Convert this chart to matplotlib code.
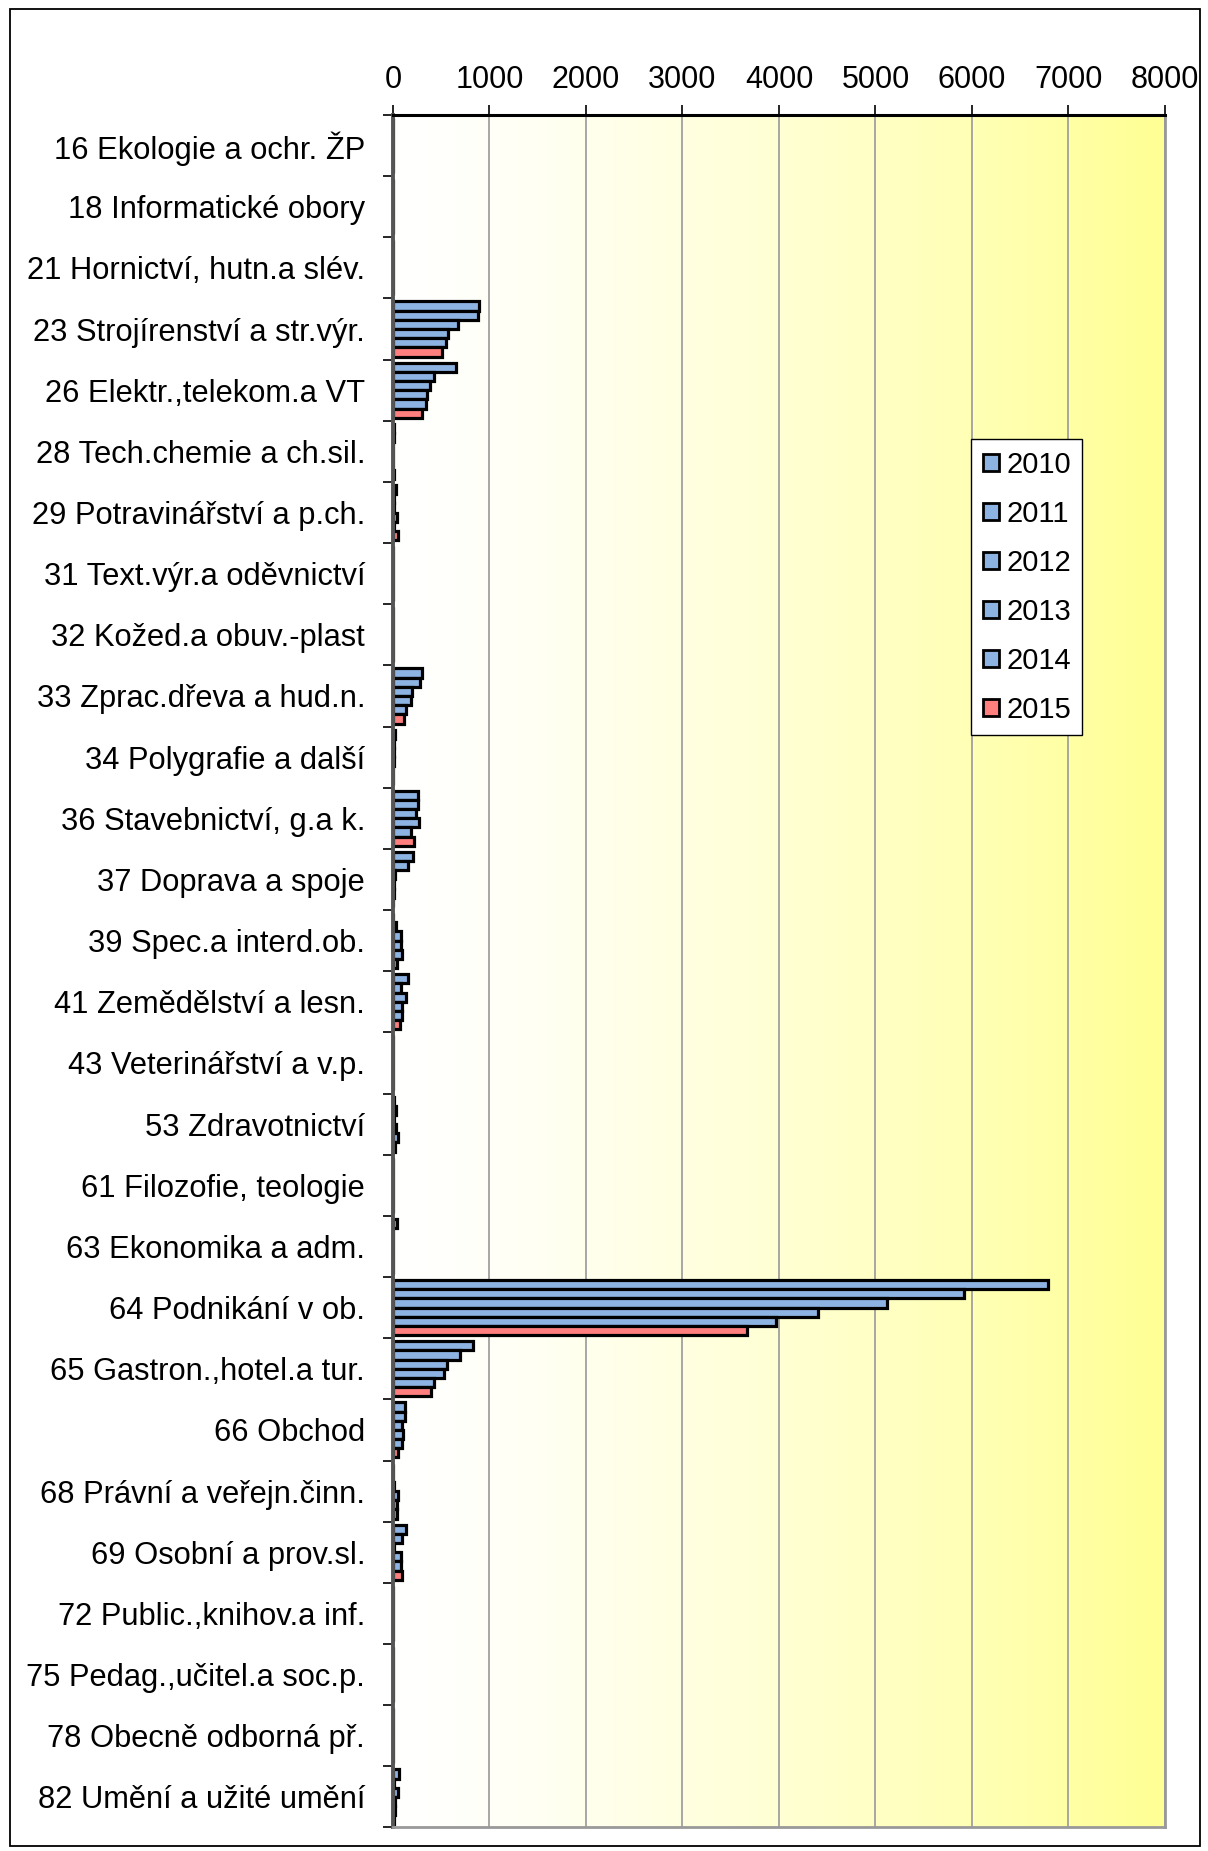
import numpy as np
import matplotlib
matplotlib.use('Agg')
import matplotlib.pyplot as plt
from matplotlib.patches import Rectangle

plt.rcParams['font.family'] = ['Liberation Sans', 'DejaVu Sans']

# obory vzdelani
obory = ['16 Ekologie a ochr. ŽP', '18 Informatické obory', '21 Hornictví, hutn.a slév.',
         '23 Strojírenství a str.výr.', '26 Elektr.,telekom.a VT', '28 Tech.chemie a ch.sil.',
         '29 Potravinářství a p.ch.', '31 Text.výr.a oděvnictví', '32 Kožed.a obuv.-plast',
         '33 Zprac.dřeva a hud.n.', '34 Polygrafie a další', '36 Stavebnictví, g.a k.',
         '37 Doprava a spoje', '39 Spec.a interd.ob.', '41 Zemědělství a lesn.',
         '43 Veterinářství a v.p.', '53 Zdravotnictví', '61 Filozofie, teologie',
         '63 Ekonomika a adm.', '64 Podnikání v ob.', '65 Gastron.,hotel.a tur.',
         '66 Obchod', '68 Právní a veřejn.činn.', '69 Osobní a prov.sl.',
         '72 Public.,knihov.a inf.', '75 Pedag.,učitel.a soc.p.', '78 Obecně odborná př.',
         '82 Umění a užité umění']

roky = ['2010', '2011', '2012', '2013', '2014', '2015']

r2010 = [0, 0, 0, 891, 649, 15, 30, 0, 0, 297, 20, 262, 205, 0, 155, 0, 10, 0, 40, 6790, 830, 125, 0, 130, 0, 0, 0, 60]
r2011 = [0, 0, 0, 884, 428, 10, 10, 0, 0, 283, 15, 262, 158, 30, 85, 0, 35, 0, 0, 5920, 697, 120, 0, 97, 0, 0, 0, 15]
r2012 = [0, 0, 0, 676, 383, 0, 10, 0, 0, 200, 15, 241, 20, 80, 130, 0, 10, 0, 0, 5115, 560, 97, 15, 10, 0, 0, 0, 55]
r2013 = [0, 0, 0, 569, 348, 0, 45, 0, 0, 183, 10, 269, 10, 85, 96, 0, 35, 0, 0, 4400, 532, 103, 50, 85, 0, 0, 0, 25]
r2014 = [0, 0, 0, 552, 338, 0, 15, 0, 0, 131, 0, 189, 8, 90, 90, 0, 55, 0, 0, 3965, 425, 97, 45, 80, 0, 0, 0, 20]
r2015 = [0, 0, 0, 504, 297, 15, 50, 0, 0, 117, 0, 220, 5, 45, 70, 0, 20, 0, 0, 3670, 395, 55, 38, 90, 0, 0, 0, 15]
serie = [r2010, r2011, r2012, r2013, r2014, r2015]
barvy = ['#8DB3E2'] * 5 + ['#FF7F7F']

fig = plt.figure(figsize=(12.08, 18.51), dpi=100)
ax = fig.add_axes([0.3253, 0.0127, 0.9644 - 0.3253, 0.9379 - 0.0127])

# prechod bila -> zluta v pozadi
grad = np.linspace(0, 1, 256) ** 1.3
img = np.zeros((1, 256, 3))
img[0, :, 0] = 1.0
img[0, :, 1] = 1.0
img[0, :, 2] = 1.0 - grad * (1.0 - 148 / 255)
ax.imshow(img, extent=[0, 8000, 27.5, -0.5], aspect='auto', zorder=0)

y = np.arange(len(obory))
h = 0.15
for j, vals in enumerate(serie):
    ax.barh(y + (j - 2.5) * h, vals, height=h, color=barvy[j], edgecolor='black',
            linewidth=2.3, label=roky[j], zorder=3)

ax.set_xlim(0, 8000)
ax.set_ylim(27.5, -0.5)
ax.set_xticks(np.arange(0, 8001, 1000))
ax.xaxis.tick_top()
ax.tick_params(axis='x', labelsize=22, length=7, width=1.2, pad=7.5, colors='black')
ax.grid(axis='x', color='#A0A0A0', linewidth=1.3, zorder=1)

ax.set_yticks(y)
ax.set_yticklabels(obory, fontsize=22.2)
ax.tick_params(axis='y', length=0, pad=20)
ax.set_yticks(np.arange(-0.5, 28, 1), minor=True)
ax.tick_params(axis='y', which='minor', length=7, width=1.2, direction='out')

for s in ['bottom', 'right']:
    ax.spines[s].set_color('#999999')
    ax.spines[s].set_linewidth(2)
ax.spines['left'].set_color('#555555')
ax.spines['left'].set_linewidth(2.8)
ax.spines['top'].set_color('black')
ax.spines['top'].set_linewidth(2.2)
for s in ax.spines.values():
    s.set_zorder(4)

leg = fig.legend(loc='upper left', bbox_to_anchor=(971 / 1208, 1 - 439 / 1851), fontsize=21,
                 frameon=True, fancybox=False, edgecolor='black', framealpha=1,
                 handlelength=0.55, handleheight=0.55, handletextpad=0.25,
                 labelspacing=0.72, borderpad=0.4, borderaxespad=0)
leg.get_frame().set_linewidth(1.0)
for p in leg.get_patches():
    p.set_linewidth(2.0)

# ramecek kolem celeho grafu
fig.patches.append(Rectangle((0.0079, 0.0027), 0.9855, 0.9922, transform=fig.transFigure,
                             fill=False, edgecolor='black', linewidth=1.3))

fig.savefig('out.png', dpi=100)
